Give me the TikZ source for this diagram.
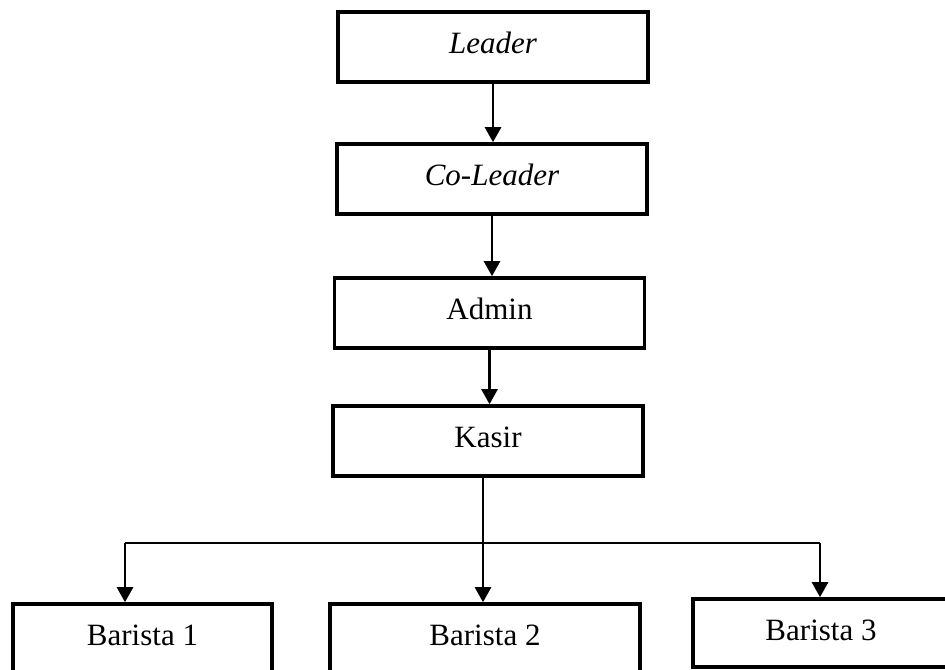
\documentclass[tikz,border=0pt]{standalone}
\usepackage{fontspec}
\setmainfont{Liberation Serif}
\usetikzlibrary{arrows.meta,positioning}

\tikzstyle{unit}=[draw,line width=1.8pt,inner sep=0pt,minimum width=155pt,text height=20.5pt,text depth=14.5pt,anchor=base,font=\fontsize{15.5}{18}\selectfont]
\tikzstyle{link}=[line width=1.3pt,-{Triangle[length=7.5pt,width=8pt]}]
\tikzstyle{branch}=[line width=0.8pt]

\begin{document}
\begin{tikzpicture}[x=0.5pt,y=-0.5pt]
    \clip (0,0) rectangle (945,669);
    %Chain nodes
    \foreach \pos/\name/\txt in {{(493,53)/leader/\textit{Leader}}, {(492,185)/coleader/\textit{Co-Leader}},
                                 {(489.5,319)/admin/Admin}, {(488,447)/kasir/Kasir}}
    \node[unit] (\name) at \pos {\txt};
    %Barista nodes
    \node[unit,minimum width=129.5pt,text depth=25pt] (barista1) at (142.5,645) {Barista 1};
    \node[unit,text depth=25pt] (barista2) at (485,645) {Barista 2};
    \node[unit,minimum width=128pt,text depth=13.5pt] (barista3) at (821,640) {Barista 3};
    %Branch points
    \coordinate (split) at (483,543);
    \coordinate (left) at (125,543);
    \coordinate (right) at (820,543);
    %Links
    \draw[link] (leader.south) -- (leader.south |- coleader.north);
    \draw[link] (coleader.south) -- (coleader.south |- admin.north);
    \draw[link] (admin.south) -- (admin.south |- kasir.north);
    \draw[link] (kasir.south -| split) -- (split |- barista2.north);
    \draw[branch] (left) -- (right);
    \draw[link] (left) -- (left |- barista1.north);
    \draw[link] (right) -- (right |- barista3.north);
\end{tikzpicture}
\end{document}
